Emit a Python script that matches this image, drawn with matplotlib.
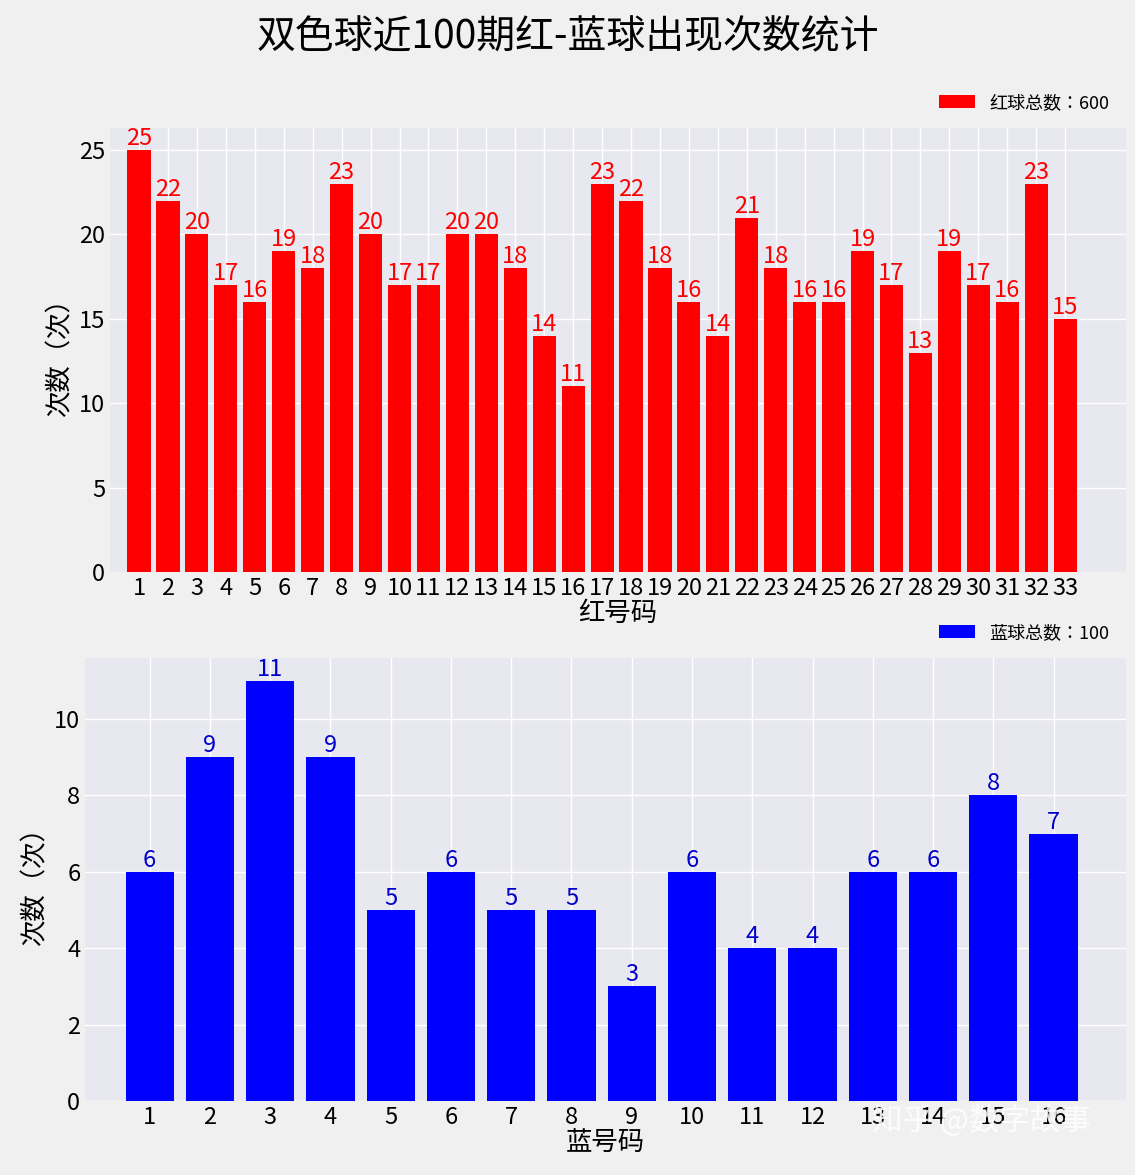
import matplotlib.pyplot as plt

plt.rcParams["font.family"] = ["Noto Sans CJK SC", "Noto Sans CJK JP", "Noto Sans CJK TC", "DejaVu Sans"]
plt.rcParams["axes.unicode_minus"] = False

red_nums = [str(i) for i in range(1, 34)]
red_counts = [25, 22, 20, 17, 16, 19, 18, 23, 20, 17, 17, 20, 20, 18, 14, 11, 23,
              22, 18, 16, 14, 21, 18, 16, 16, 19, 17, 13, 19, 17, 16, 23, 15]
blue_nums = [str(i) for i in range(1, 17)]
blue_counts = [6, 9, 11, 9, 5, 6, 5, 5, 3, 6, 4, 4, 6, 6, 8, 7]

fig = plt.figure(figsize=(11.35, 11.75), dpi=100, facecolor="#f0f0f0")
ax1 = fig.add_axes([0.097, 0.513, 0.895, 0.378])
ax2 = fig.add_axes([0.075, 0.063, 0.917, 0.377])

def draw(ax, nums, counts, color, xlabel, label):
    ax.set_facecolor("#e8e8f0")
    ax.grid(True, color="white", linewidth=1)
    ax.set_axisbelow(True)
    for s in ax.spines.values():
        s.set_visible(False)
    bars = ax.bar(nums, counts, color=color, label=label)
    for b, c in zip(bars, counts):
        ax.text(b.get_x() + b.get_width() / 2, c, str(c), ha="center", va="bottom",
                color="red" if color == "red" else "#0000cc", fontsize=17)
    ax.set_xlabel(xlabel, fontsize=19, labelpad=0)
    ax.set_ylabel("次数（次）", fontsize=19)
    ax.tick_params(labelsize=17, length=0)
    ax.legend(loc="lower right", bbox_to_anchor=(1.0, 1.0), frameon=False, fontsize=13)

draw(ax1, red_nums, red_counts, "red", "红号码", "红球总数：600")
ax1.set_ylim(0, 26.3)
ax1.set_xlim(-1.0, 34.1)
draw(ax2, blue_nums, blue_counts, "blue", "蓝号码", "蓝球总数：100")
ax2.set_ylim(0, 11.6)
ax2.set_xlim(-1.07, 16.2)

fig.suptitle("双色球近100期红-蓝球出现次数统计", fontsize=28, y=0.985)
fig.text(0.865, 0.038, "知乎 @数字故事", fontsize=22, color="white", alpha=0.85, ha="center")
fig.savefig("out.png", facecolor=fig.get_facecolor())
